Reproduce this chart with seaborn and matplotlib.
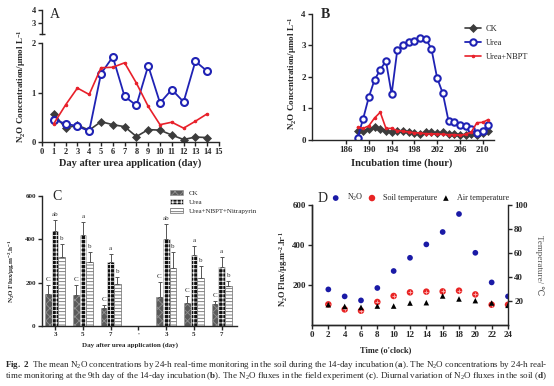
import numpy as np
import pandas as pd
import matplotlib
matplotlib.use('Agg')
import matplotlib.pyplot as plt
import matplotlib.patches as mpatches
from matplotlib.lines import Line2D
import seaborn as sns

sns.set_theme(style='ticks')
plt.rcParams['font.family'] = ['Liberation Serif', 'DejaVu Serif']
plt.rcParams['mathtext.fontset'] = 'custom'
plt.rcParams['mathtext.rm'] = 'Liberation Serif'
plt.rcParams['mathtext.bf'] = 'Liberation Serif:bold'
plt.rcParams['mathtext.it'] = 'Liberation Serif:italic'
plt.rcParams['mathtext.default'] = 'regular'
plt.rcParams['axes.linewidth'] = 1.0
plt.rcParams['xtick.major.width'] = 1.0
plt.rcParams['ytick.major.width'] = 1.0
plt.rcParams['hatch.linewidth'] = 0.6

# ---- panel A: 14-day incubation ----
a_days = list(range(1, 15))
a_ck = [0.57, 0.28, 0.34, 0.24, 0.41, 0.35, 0.31, 0.11, 0.25, 0.24, 0.14, 0.05, 0.10, 0.09]
a_urea = [0.45, 0.37, 0.32, 0.22, 1.38, 1.72, 0.92, 0.74, 1.54, 0.79, 1.06, 0.81, 1.63, 1.43]
a_nbpt = [0.37, 0.75, 1.09, 0.96, 1.50, 1.51, 1.60, 1.19, 0.72, 0.35, 0.40, 0.28, 0.42, 0.57]

# ---- panel B: 9th day, hourly ----
b_hours = list(range(188, 212))
b_ck = [0.27, 0.28, 0.35, 0.40, 0.35, 0.29, 0.26, 0.28, 0.29, 0.26, 0.21, 0.20,
        0.25, 0.24, 0.22, 0.24, 0.19, 0.20, 0.17, 0.17, 0.18, 0.17, 0.22, 0.29]
b_urea = [0.06, 0.68, 1.37, 1.91, 2.23, 2.51, 1.46, 2.86, 3.00, 3.12, 3.13, 3.23,
          3.22, 2.89, 1.97, 1.48, 0.61, 0.56, 0.47, 0.44, 0.34, 0.23, 0.30, 0.47]
b_nbpt = [0.40, 0.37, 0.45, 0.70, 0.88, 0.37, 0.37, 0.30, 0.28, 0.25, 0.23, 0.22,
          0.20, 0.20, 0.19, 0.18, 0.17, 0.17, 0.15, 0.18, 0.25, 0.55, 0.56, 0.65]

# ---- panel C: field fluxes ----
c_pos = [0, 1, 2, 4, 5, 6]
c_ticklabels = ['3', '5', '7', "'", '3', '5', '7']
c_treats = ['CK', 'Urea', 'Urea+NBPT+Nitrapyrin']
c_ck = [148, 143, 82, 134, 108, 102]
c_ck_err = [40, 45, 15, 69, 32, 15]
c_urea = [438, 420, 295, 402, 328, 271]
c_urea_err = [51, 60, 36, 70, 43, 49]
c_nbpt = [317, 294, 192, 266, 223, 185]
c_nbpt_err = [60, 49, 36, 77, 54, 24]
c_ck_sig = ['C', 'C', 'C', 'C', 'C', 'C']
c_urea_sig = ['ab', 'a', 'a', 'ab', 'a', 'a']
c_nbpt_sig = ['b', 'b', 'b', 'b', 'b', 'b']

# ---- panel D: diurnal ----
d_time = [2, 4, 6, 8, 10, 12, 14, 16, 18, 20, 22, 24]
d_n2o = [178, 143, 123, 185, 270, 336, 403, 465, 555, 361, 213, 143]
d_soil = [17.2, 13.0, 11.9, 19.2, 24.2, 27.2, 27.8, 28.0, 28.6, 25.5, 16.9, 16.9]
d_air = [16.9, 15.5, 14.7, 15.8, 15.8, 18.3, 18.6, 24.2, 21.7, 20.3, 18.3, 16.4]

CK_C = '#3c3c3c'
UREA_C = '#1f22b4'
NBPT_C = '#e8202a'

W, H = 554, 386
fig = plt.figure(figsize=(W / 100, H / 100), dpi=100)


def add_ax(l, t, r, b):
    return fig.add_axes([l / W, 1 - b / H, (r - l) / W, (b - t) / H])


def bold_ticks(ax, size):
    ax.tick_params(labelsize=size, length=3, pad=1.5)
    for lab in ax.get_xticklabels() + ax.get_yticklabels():
        lab.set_fontweight('bold')


def draw_lines(ax, x, ck, urea, nbpt, labels=False, ms=5):
    sns.lineplot(x=x, y=ck, ax=ax, color=CK_C, marker='D', markersize=ms * 0.8,
                 mec=CK_C, mew=0.5, lw=1.2, label='CK' if labels else None)
    sns.lineplot(x=x, y=urea, ax=ax, color=UREA_C, marker='o', markersize=ms,
                 mfc='white', mec=UREA_C, mew=1.5, lw=1.3, label='Urea' if labels else None)
    sns.lineplot(x=x, y=nbpt, ax=ax, color=NBPT_C, marker='o', markersize=1.8,
                 mec=NBPT_C, lw=1.2, label='Urea+NBPT' if labels else None)


# ---------- A ----------
axA = add_ax(42, 43, 219, 142)
draw_lines(axA, a_days, a_ck, a_urea, a_nbpt, ms=5)
axA.set_xlim(0, 15)
axA.set_ylim(0, 2)
axA.set_xticks(range(16))
axA.set_yticks([0, 1, 2])
axA.set_xlabel('')
axA.set_ylabel('')
sns.despine(ax=axA)
bold_ticks(axA, 6)

axA2 = add_ax(42, 10, 219, 34)
axA2.set_xlim(0, 15)
axA2.set_ylim(2.18, 4)
axA2.set_xticks([])
axA2.set_yticks([3, 4])
axA2.set_yticks([2.18], minor=True)
axA2.tick_params(axis='y', which='minor', length=4, width=1.0, direction='inout')
for s in ['top', 'right', 'bottom']:
    axA2.spines[s].set_visible(False)
axA2.patch.set_alpha(0)
bold_ticks(axA2, 6)

fig.text(55 / W, 1 - 14 / H, 'A', fontsize=10, ha='center', va='center')
fig.text(22 / W, 1 - 86 / H, 'N$_2$O Concentration/μmol L$^{-1}$', rotation=90,
         ha='center', va='center', fontsize=6.5, fontweight='bold')
fig.text(130 / W, 1 - 163 / H, 'Day after urea application (day)', ha='center',
         va='center', fontsize=7.5, fontweight='bold')

# ---------- B ----------
axB = add_ax(312, 14, 494, 140)
draw_lines(axB, b_hours, b_ck, b_urea, b_nbpt, labels=True, ms=4.6)
axB.set_xlim(180, 212)
axB.set_ylim(0, 4)
axB.set_xticks(range(186, 211, 4))
axB.set_yticks([0, 1, 2, 3, 4])
axB.set_xlabel('')
axB.set_ylabel('')
sns.despine(ax=axB)
bold_ticks(axB, 6.5)
axB.legend(loc='upper left', bbox_to_anchor=(0.82, 0.94), frameon=False, fontsize=6,
           handlelength=2.0, labelspacing=0.75, borderaxespad=0, handletextpad=0.5)

fig.text(325 / W, 1 - 14 / H, 'B', fontsize=10, ha='center', va='center', fontweight='bold')
fig.text(292 / W, 1 - 73 / H, 'N$_2$O Concentration/μmol L$^{-1}$', rotation=90,
         ha='center', va='center', fontsize=6.5, fontweight='bold')
fig.text(402 / W, 1 - 163 / H, 'Incubation time (hour)', ha='center', va='center',
         fontsize=7.5, fontweight='bold')

# ---------- C ----------
c_df = pd.DataFrame({
    'pos': c_pos * 3,
    'flux': c_ck + c_urea + c_nbpt,
    'treat': [c_treats[0]] * 6 + [c_treats[1]] * 6 + [c_treats[2]] * 6,
})
axC = add_ax(42, 196, 237, 326)
sns.barplot(data=c_df, x='pos', y='flux', hue='treat', order=list(range(7)),
            hue_order=c_treats, width=0.72, errorbar=None, ax=axC, legend=False,
            saturation=1)
c_styles = [
    dict(facecolor='#5a5a5a', edgecolor='#909090', hatch='xxxx', linewidth=0.4),
    dict(facecolor='#111111', edgecolor='#f4f4f4', hatch='++++', linewidth=0.4),
    dict(facecolor='white', edgecolor='#6a6a6a', hatch='-----', linewidth=0.5),
]
for cont, style, errs, sigs in zip(axC.containers, c_styles,
                                   [c_ck_err, c_urea_err, c_nbpt_err],
                                   [c_ck_sig, c_urea_sig, c_nbpt_sig]):
    bars = sorted(cont, key=lambda p: p.get_x())
    for bar, e, s in zip(bars, errs, sigs):
        bar.set(**style)
        xc = bar.get_x() + bar.get_width() / 2
        top = bar.get_height()
        axC.errorbar(xc, top, yerr=[[0], [e]], color='#555555', capsize=1.6,
                     elinewidth=0.7, capthick=0.7, fmt='none')
        axC.text(xc, top + e + 14, s, ha='center', va='bottom', fontsize=5,
                 color='#333333')
axC.set_xlim(-0.47, 6.55)
axC.set_ylim(0, 600)
axC.set_yticks([0, 200, 400, 600])
axC.set_xticks(range(7))
axC.set_xticklabels(c_ticklabels)
axC.set_xlabel('')
axC.set_ylabel('')
sns.despine(ax=axC)
bold_ticks(axC, 5)
c_handles = [mpatches.Patch(label=t, **st) for t, st in zip(c_treats, c_styles)]
axC.legend(handles=c_handles, loc='upper left', bbox_to_anchor=(0.64, 1.07),
           frameon=False, fontsize=5, handlelength=2.0, handleheight=0.8,
           labelspacing=0.45, borderaxespad=0)

fig.text(57 / W, 1 - 197 / H, 'C', fontsize=10, ha='center', va='center')
fig.text(12 / W, 1 - 271 / H, 'N$_2$O Flux/μg.m$^{-2}$.h$^{-1}$', rotation=90,
         ha='center', va='center', fontsize=5, fontweight='bold')
fig.text(130 / W, 1 - 345 / H, 'Day after urea application (day)', ha='center',
         va='center', fontsize=5, fontweight='bold')

# ---------- D ----------
axD = add_ax(312, 205, 508, 325)
sns.scatterplot(x=d_time, y=d_n2o, ax=axD, color='#1a1aa6', s=17, edgecolor='none',
                label='N$_2$O', legend=False)
axD2 = axD.twinx()
sns.scatterplot(x=d_time, y=d_soil, ax=axD2, color='#e82424', s=22, edgecolor='none',
                label='Soil temperature', legend=False)
axD2.scatter(d_time, d_soil, marker='+', s=6, color='#ffb0b0', linewidths=0.6)
sns.scatterplot(x=d_time, y=d_air, ax=axD2, color='black', marker='^', s=16,
                edgecolor='none', label='Air temperature', legend=False)
axD.set_xlim(0, 24)
axD.set_ylim(0, 600)
axD.set_xticks(range(0, 25, 2))
axD.set_yticks([200, 400, 600])
axD2.set_ylim(0, 100)
axD2.set_yticks([20, 40, 60, 80, 100])
for a in (axD, axD2):
    a.set_xlabel('')
    a.set_ylabel('')
    a.spines['top'].set_visible(False)
axD.spines['right'].set_visible(False)
bold_ticks(axD, 6.5)
bold_ticks(axD2, 6.5)
h1, l1 = axD.get_legend_handles_labels()
h2, l2 = axD2.get_legend_handles_labels()
axD2.legend(h1 + h2, l1 + l2, loc='center left', bbox_to_anchor=(0.1, 1.06), ncol=3,
            frameon=False, fontsize=5.9, handlelength=1.0, handletextpad=0.9,
            columnspacing=0.5, borderaxespad=0, borderpad=0)

fig.text(323 / W, 1 - 198 / H, 'D', fontsize=10, ha='center', va='center')
fig.text(283 / W, 1 - 269 / H, 'N$_2$O Flux/μg.m$^{-2}$.h$^{-1}$', rotation=90,
         ha='center', va='center', fontsize=6, fontweight='bold')
fig.text(539 / W, 1 - 265 / H, 'Temperature/ ℃', rotation=270, ha='center',
         va='center', fontsize=6.5, color='#555555')
fig.text(386 / W, 1 - 350 / H, "Time (o'clock)", ha='center', va='center',
         fontsize=6, fontweight='bold')

# ---------- caption ----------
cap1 = (r'$\mathbf{Fig.\ 2}$  The mean N$_2$O concentrations by 24-h real-time monitoring in the soil '
        r'during the 14-day incubation ($\mathbf{a}$). The N$_2$O concentrations by 24-h real-')
cap2 = (r'time monitoring at the 9th day of the 14-day incubation ($\mathbf{b}$). The N$_2$O fluxes '
        r'in the field experiment ($\mathbf{c}$). Diurnal variation of N$_2$O fluxes in the soil ($\mathbf{d}$)')
fig.text(5 / W, 1 - 365 / H, cap1, ha='left', va='center', fontsize=6.45)
fig.text(5 / W, 1 - 376 / H, cap2, ha='left', va='center', fontsize=6.45)

fig.savefig('out.png', dpi=100)
